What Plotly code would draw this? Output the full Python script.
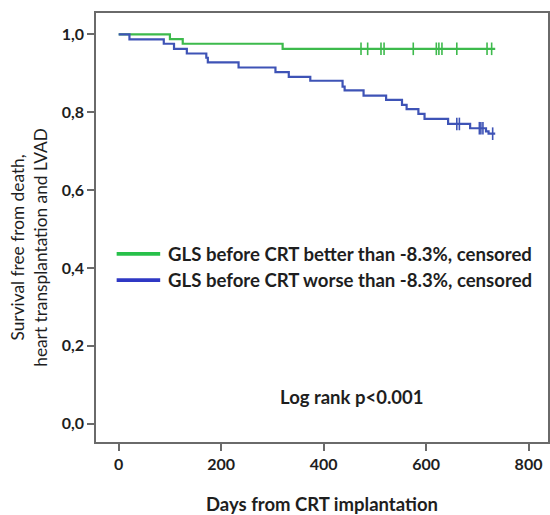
import plotly.graph_objects as go

# ---- data ----
green_times = [0, 100, 125, 320, 735]
green_surv = [1.0, 0.988, 0.976, 0.963, 0.963]
green_censor = [473, 486, 512, 518, 575, 620, 625, 631, 660, 719, 728]

blue_times = [0, 21, 88, 108, 133, 171, 174, 234, 306, 332, 374, 437, 441,
              478, 522, 553, 562, 585, 597, 643, 686, 717, 722, 735]
blue_surv = [1.0, 0.987, 0.976, 0.963, 0.951, 0.940, 0.928, 0.915, 0.903,
             0.891, 0.881, 0.866, 0.856, 0.843, 0.832, 0.819, 0.808, 0.796,
             0.783, 0.770, 0.759, 0.751, 0.745, 0.745]
blue_censor = [660, 665, 704, 707, 711, 730]

legend_labels = ["GLS before CRT better than -8.3%, censored",
                 "GLS before CRT worse than -8.3%, censored"]
x_ticks = [0, 200, 400, 600, 800]
y_ticks = [0.0, 0.2, 0.4, 0.6, 0.8, 1.0]
y_ticklabels = ["0,0", "0,2", "0,4", "0,6", "0,8", "1,0"]

GREEN = "#3dba4c"
BLUE = "#3e53b6"
GREEN_LEG = "#27c04a"
BLUE_LEG = "#2f38c4"
FONT = "Lato"
TXT = "#1e1e1e"


def surv_at(times, surv, t):
    v = surv[0]
    for ti, si in zip(times, surv):
        if ti <= t:
            v = si
    return v


fig = go.Figure()
for times, surv, cens, col in [(green_times, green_surv, green_censor, GREEN),
                               (blue_times, blue_surv, blue_censor, BLUE)]:
    fig.add_trace(go.Scatter(x=times, y=surv, mode="lines", line_shape="hv",
                             line=dict(color=col, width=2.2), showlegend=False,
                             hoverinfo="skip"))
    fig.add_trace(go.Scatter(x=cens, y=[surv_at(times, surv, t) for t in cens],
                             mode="markers", showlegend=False,
                             marker=dict(symbol="line-ns", size=9,
                                         line=dict(color=col, width=1.6))))

# legend (drawn manually)
leg_y = [0.436, 0.369]
for lab, y, col in zip(legend_labels, leg_y, [GREEN_LEG, BLUE_LEG]):
    fig.add_shape(type="line", xref="x", yref="y", x0=-4, x1=81, y0=y, y1=y,
                  line=dict(color=col, width=3.8))
    fig.add_annotation(x=93, y=y, xref="x", yref="y", text="<b>%s</b>" % lab,
                       showarrow=False, xanchor="left", yanchor="middle",
                       font=dict(family=FONT, size=18.6, color=TXT))

fig.add_annotation(x=456, y=0.068, xref="x", yref="y",
                   text="<b>Log rank p<0.001</b>", showarrow=False,
                   xanchor="center", yanchor="middle",
                   font=dict(family=FONT, size=18.5, color=TXT))

fig.add_annotation(x=-0.148, y=0.453, xref="paper", yref="paper",
                   text="Survival free from death,<br>heart transplantation and LVAD",
                   textangle=-90, showarrow=False, xanchor="center", yanchor="middle",
                   font=dict(family=FONT, size=17.3, color=TXT))

axis_common = dict(showline=True, linecolor="#6a6a6a", linewidth=1.6, mirror=True,
                   ticks="outside", ticklen=7, tickwidth=1.5, tickcolor="#6a6a6a",
                   showgrid=False, zeroline=False,
                   tickfont=dict(family=FONT, size=16, color=TXT))

fig.update_xaxes(range=[-44.3, 838], tickvals=x_ticks,
                 ticktext=["<b>%d</b>" % v for v in x_ticks],
                 title=dict(text="<b>Days from CRT implantation</b>",
                            font=dict(family=FONT, size=18.5, color=TXT), standoff=28),
                 **axis_common)
fig.update_yaxes(range=[-0.047, 1.055], tickvals=y_ticks,
                 ticktext=["<b>%s</b>" % t for t in y_ticklabels],
                 **axis_common)

fig.update_layout(width=550, height=515, plot_bgcolor="white", paper_bgcolor="white",
                  margin=dict(l=96, r=2, t=13, b=73, autoexpand=False), showlegend=False)

fig.write_html("out.html", config={"displayModeBar": False},
               post_script="document.body.style.margin='0px';")
